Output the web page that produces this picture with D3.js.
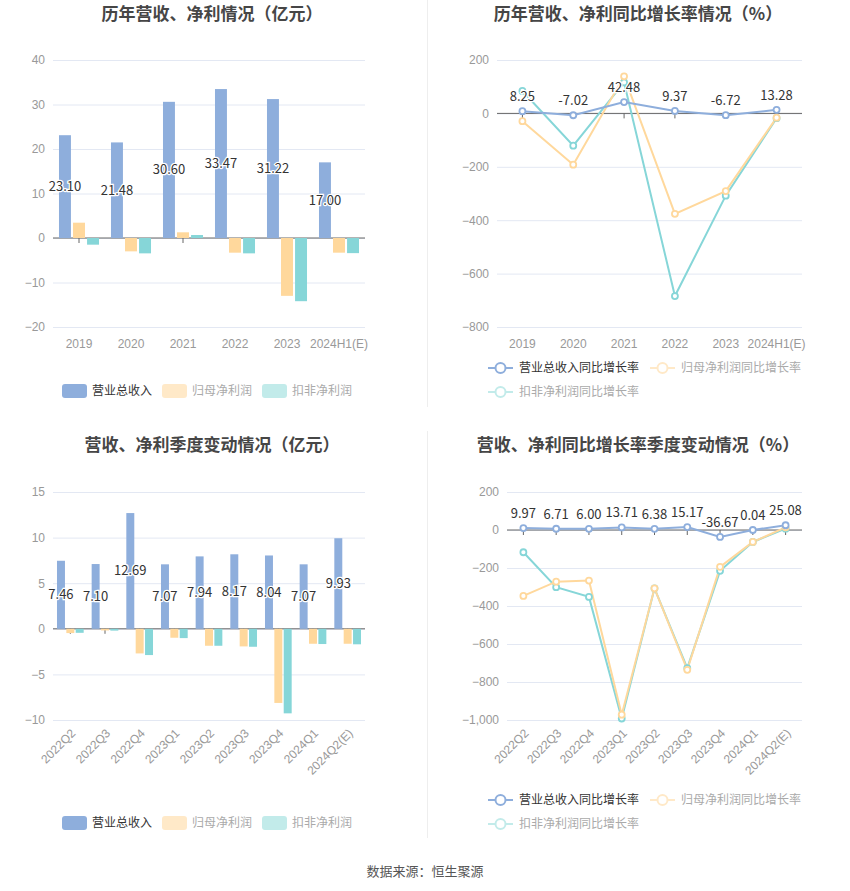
<!DOCTYPE html>
<html>
<head>
<meta charset="utf-8">
<script src="https://cdn.jsdelivr.net/npm/d3@7"></script>
<style>
  body { margin: 0; background: #fff; font-family: "Noto Sans CJK SC", "Noto Sans", sans-serif; }
  .tick text { fill: #999; font-size: 12px; }
</style>
</head>
<body>
<div id="vis-container"></div>
<script>
// yearly data (亿元)
var years = ["2019", "2020", "2021", "2022", "2023", "2024H1(E)"];
var yearRevenue = [23.10, 21.48, 30.60, 33.47, 31.22, 17.00];
var yearNetProfit = [3.44, -3.0, 1.28, -3.3, -13.0, -3.3];
var yearDeductProfit = [-1.5, -3.45, 0.67, -3.45, -14.2, -3.4];

// yearly growth (%)
var yearRevenueGrowth = [8.25, -7.02, 42.48, 9.37, -6.72, 13.28];
var yearNetGrowth = [-29, -192, 139, -376, -291, -16];
var yearDeductGrowth = [84, -121, 116, -684, -308, -18];

// quarterly data (亿元)
var quarters = ["2022Q2", "2022Q3", "2022Q4", "2023Q1", "2023Q2", "2023Q3", "2023Q4", "2024Q1", "2024Q2(E)"];
var qRevenue = [7.46, 7.10, 12.69, 7.07, 7.94, 8.17, 8.04, 7.07, 9.93];
var qNetProfit = [-0.47, -0.18, -2.7, -0.98, -1.86, -1.93, -8.13, -1.64, -1.64];
var qDeductProfit = [-0.44, -0.2, -2.88, -1.02, -1.86, -1.97, -9.27, -1.67, -1.7];

// quarterly growth (%)
var qRevenueGrowth = [9.97, 6.71, 6.00, 13.71, 6.38, 15.17, -36.67, 0.04, 25.08];
var qNetGrowth = [-347, -272, -266, -972, -307, -736, -194, -63, 14];
var qDeductGrowth = [-117, -301, -352, -992, -307, -727, -215, -63, 7];

var barNames = ["营业总收入", "归母净利润", "扣非净利润"];
var lineNames = ["营业总收入同比增长率", "归母净利润同比增长率", "扣非净利润同比增长率"];
var colors = ["#8eaedc", "#ffd89c", "#86d6d8"];
var legendColors = ["#8eaedc", "#ffe9c8", "#c2ebea"];

var width = 850, height = 891;
var svg = d3.select("#vis-container").append("svg")
    .attr("width", width).attr("height", height);

// panel dividers
svg.append("line").attr("x1", 427.5).attr("x2", 427.5).attr("y1", 0).attr("y2", 407)
    .attr("stroke", "#eee");
svg.append("line").attr("x1", 427.5).attr("x2", 427.5).attr("y1", 431).attr("y2", 838)
    .attr("stroke", "#eee");

function addTitle(text, x, y) {
    svg.append("text").text(text)
        .attr("x", x).attr("y", y)
        .attr("text-anchor", "middle")
        .attr("font-size", 17).attr("font-weight", "bold")
        .attr("fill", "#464646");
}

addTitle("历年营收、净利情况（亿元）", 212, 20);
addTitle("历年营收、净利同比增长率情况（%）", 638, 20);
addTitle("营收、净利季度变动情况（亿元）", 212, 451);
addTitle("营收、净利同比增长率季度变动情况（%）", 638, 451);

svg.append("text").text("数据来源：恒生聚源")
    .attr("x", 425).attr("y", 876).attr("text-anchor", "middle")
    .attr("font-size", 13).attr("fill", "#555");

// common axes: gridlines, y labels, zero line with ticks, x labels
function drawAxes(g, x, y, ticks, fmt, rotate) {
    var x0 = x.range()[0], x1 = x.range()[1];
    var yAxis = g.append("g")
        .call(d3.axisLeft(y).tickValues(ticks).tickFormat(fmt)
            .tickSizeInner(-(x1 - x0)).tickSizeOuter(0).tickPadding(8))
        .attr("transform", "translate(" + x0 + ",0)");
    yAxis.select(".domain").remove();
    yAxis.selectAll(".tick line").attr("stroke", "#e3e8f3");

    var bottom = y.range()[0];
    var xAxis = g.append("g")
        .attr("transform", "translate(0," + bottom + ")")
        .call(d3.axisBottom(x).tickSize(0).tickPadding(12));
    xAxis.select(".domain").remove();
    if (rotate) {
        xAxis.selectAll(".tick text")
            .attr("text-anchor", "end")
            .attr("y", 0)
            .attr("dy", "0.35em")
            .attr("font-size", 13)
            .attr("transform", "translate(3,11) rotate(-45)");
    }

    // zero line with ticks at category centers
    var zero = g.append("g").attr("transform", "translate(0," + y(0) + ")");
    zero.selectAll("line.t").data(x.domain()).enter().append("line")
        .attr("x1", d => x(d) + x.bandwidth() / 2)
        .attr("x2", d => x(d) + x.bandwidth() / 2)
        .attr("y1", 0).attr("y2", 5)
        .attr("stroke", "#666");
    zero.append("line").attr("x1", x0).attr("x2", x1)
        .attr("stroke", "#666");
}

function barPanel(cats, series, ticks, xr, yr, rotate, legendY) {
    var g = svg.append("g");
    var x = d3.scaleBand().domain(cats).range(xr);
    var y = d3.scaleLinear().domain([ticks[0], ticks[ticks.length - 1]]).range(yr);
    drawAxes(g, x, y, ticks, d3.format(""), rotate);

    var bw = x.bandwidth() * 0.23;
    var step = x.bandwidth() * 0.27;
    var bars = g.append("g");
    series.forEach((vals, i) => {
        bars.selectAll("rect.s" + i).data(vals).enter().append("rect")
            .attr("x", (d, j) => x(cats[j]) + x.bandwidth() / 2 + (i - 1) * step - bw / 2)
            .attr("width", bw)
            .attr("y", d => y(Math.max(0, d)))
            .attr("height", d => Math.abs(y(d) - y(0)))
            .attr("fill", colors[i]);
    });

    // revenue labels in the middle of the bar
    g.append("g").selectAll("text").data(series[0]).enter().append("text")
        .text(d => d.toFixed(2))
        .attr("x", (d, j) => x(cats[j]) + x.bandwidth() / 2 - step)
        .attr("y", d => (y(d) + y(0)) / 2)
        .attr("dy", "0.35em")
        .attr("text-anchor", "middle")
        .attr("font-size", 13)
        .attr("fill", "#333")
        .attr("stroke", "#fff").attr("stroke-width", 2.5)
        .attr("paint-order", "stroke");

    // legend
    var lx = [62, 162, 262];
    var leg = svg.append("g").attr("transform", "translate(0," + legendY + ")");
    barNames.forEach((name, i) => {
        leg.append("rect").attr("x", lx[i]).attr("y", -7).attr("width", 25).attr("height", 14)
            .attr("rx", 3).attr("fill", legendColors[i]);
        leg.append("text").text(name).attr("x", lx[i] + 30).attr("y", 0).attr("dy", "0.35em")
            .attr("font-size", 12).attr("fill", i === 0 ? "#333" : "#aaa");
    });
}

function linePanel(cats, series, ticks, xr, yr, rotate, legendY) {
    var g = svg.append("g");
    var x = d3.scaleBand().domain(cats).range(xr);
    var y = d3.scaleLinear().domain([ticks[0], ticks[ticks.length - 1]]).range(yr);
    drawAxes(g, x, y, ticks, d3.format(","), rotate);

    var cx = (d, j) => x(cats[j]) + x.bandwidth() / 2;
    var line = d3.line().x(cx).y(d => y(d));

    // draw teal first, then orange, then blue on top
    [2, 1, 0].forEach(i => {
        g.append("path").attr("d", line(series[i]))
            .attr("fill", "none").attr("stroke", colors[i]).attr("stroke-width", 2);
    });
    [2, 1, 0].forEach(i => {
        g.append("g").selectAll("circle").data(series[i]).enter().append("circle")
            .attr("cx", cx).attr("cy", d => y(d)).attr("r", 3)
            .attr("fill", "#fff").attr("stroke", colors[i]).attr("stroke-width", 1.8);
    });

    g.append("g").selectAll("text").data(series[0]).enter().append("text")
        .text(d => d.toFixed(2))
        .attr("x", cx)
        .attr("y", d => y(d) - 10)
        .attr("text-anchor", "middle")
        .attr("font-size", 13)
        .attr("fill", "#333")
        .attr("stroke", "#fff").attr("stroke-width", 2.5)
        .attr("paint-order", "stroke");

    // legend, two rows
    var pos = [[488, 0], [650, 0], [488, 24]];
    var leg = svg.append("g").attr("transform", "translate(0," + legendY + ")");
    lineNames.forEach((name, i) => {
        var px = pos[i][0], py = pos[i][1];
        var c = i === 0 ? colors[0] : legendColors[i];
        leg.append("line").attr("x1", px).attr("x2", px + 25).attr("y1", py).attr("y2", py)
            .attr("stroke", c).attr("stroke-width", 2);
        leg.append("circle").attr("cx", px + 12.5).attr("cy", py).attr("r", 5)
            .attr("fill", "#fff").attr("stroke", c).attr("stroke-width", 2);
        leg.append("text").text(name).attr("x", px + 31).attr("y", py).attr("dy", "0.35em")
            .attr("font-size", 12).attr("fill", i === 0 ? "#333" : "#aaa");
    });
}

barPanel(years, [yearRevenue, yearNetProfit, yearDeductProfit],
    [-20, -10, 0, 10, 20, 30, 40], [53, 365], [327, 60], false, 391);
linePanel(years, [yearRevenueGrowth, yearNetGrowth, yearDeductGrowth],
    [-800, -600, -400, -200, 0, 200], [497, 802], [327, 60], false, 368);
barPanel(quarters, [qRevenue, qNetProfit, qDeductProfit],
    [-10, -5, 0, 5, 10, 15], [53, 365], [720, 492], true, 823);
linePanel(quarters, [qRevenueGrowth, qNetGrowth, qDeductGrowth],
    [-1000, -800, -600, -400, -200, 0, 200], [507, 802], [720, 492], true, 800);
</script>
</body>
</html>
